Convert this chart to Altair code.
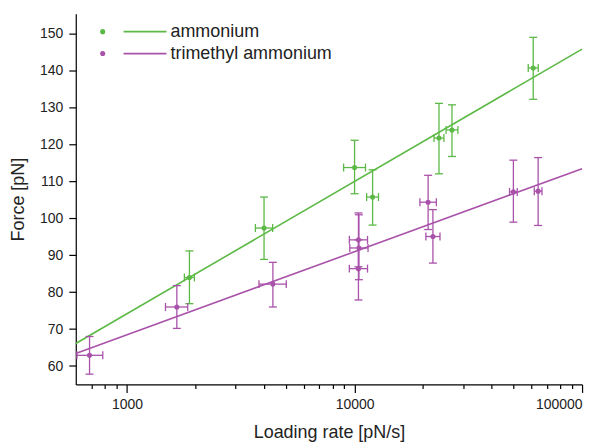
import altair as alt
import pandas as pd

# ---- data ----
amm_rate  = [1880, 4000, 10000, 12000, 23500, 26800, 61000]
amm_force = [84.0, 97.4, 113.8, 105.8, 121.8, 124.0, 140.8]
amm_f_lo  = [76.9, 88.9, 106.7, 98.2, 112.1, 116.8, 132.3]
amm_f_hi  = [91.2, 105.8, 121.2, 113.2, 131.2, 130.8, 149.1]
amm_r_lo  = [1786, 3665, 8950, 11300, 22350, 25240, 57990]
amm_r_hi  = [1977, 4365, 11170, 12740, 24700, 28460, 64170]

tma_rate  = [684, 1655, 4375, 10400, 10450, 10400, 21050, 22100, 49900, 64100]
tma_force = [62.9, 76.0, 82.2, 94.2, 92.0, 86.4, 104.4, 95.1, 107.2, 107.4]
tma_f_lo  = [57.8, 70.2, 76.0, 86.9, 83.4, 77.9, 97.0, 87.9, 99.0, 98.1]
tma_f_hi  = [68.0, 81.8, 88.1, 101.5, 101.0, 94.2, 111.7, 102.4, 115.8, 116.5]
tma_r_lo  = [602, 1475, 3800, 9485, 9530, 9485, 19370, 20580, 47990, 61650]
tma_r_hi  = [782, 1848, 5010, 11400, 11460, 11400, 22880, 23740, 51890, 66650]

# fitted lines (end points)
line_rate      = [595, 100000]
amm_line_force = [66.1, 145.9]
tma_line_force = [63.4, 113.5]

series_names = ["ammonium", "trimethyl ammonium"]
series_colors = ["#5cb946", "#a952aa"]

x_major = [1000, 10000, 100000]
x_minor = [700, 800, 900, 2000, 3000, 4000, 5000, 6000, 7000, 8000, 9000,
           20000, 30000, 40000, 50000, 60000, 70000, 80000, 90000]
y_ticks = [60, 65, 70, 75, 80, 85, 90, 95, 100, 105, 110, 115, 120, 125,
           130, 135, 140, 145, 150, 155]

# ---- tables ----
pts = pd.concat([
    pd.DataFrame({"rate": amm_rate, "force": amm_force, "flo": amm_f_lo, "fhi": amm_f_hi,
                  "rlo": amm_r_lo, "rhi": amm_r_hi, "series": series_names[0]}),
    pd.DataFrame({"rate": tma_rate, "force": tma_force, "flo": tma_f_lo, "fhi": tma_f_hi,
                  "rlo": tma_r_lo, "rhi": tma_r_hi, "series": series_names[1]}),
], ignore_index=True)

lines = pd.concat([
    pd.DataFrame({"rate": line_rate, "force": amm_line_force, "series": series_names[0]}),
    pd.DataFrame({"rate": line_rate, "force": tma_line_force, "series": series_names[1]}),
], ignore_index=True)

FONT = "Liberation Sans"
TXT = "#222222"
color = alt.Color("series:N", scale=alt.Scale(domain=series_names, range=series_colors), legend=None)

xscale = alt.Scale(type="log", domain=[595, 100000], nice=False)
yscale = alt.Scale(domain=[55, 155.5], nice=False, zero=False)

xmaj_test = "datum.value == 1000 || datum.value == 10000 || datum.value == 100000"
xaxis = alt.Axis(
    values=x_major + x_minor,
    labelExpr="(" + xmaj_test + ") ? datum.label : ''",
    tickSize={"condition": {"test": xmaj_test, "value": 8}, "value": 4},
    format="d", grid=False, title="Loading rate [pN/s]",
    labelFont=FONT, titleFont=FONT, labelColor=TXT, titleColor=TXT,
    labelFontSize=14, titleFontSize=18, titleFontWeight="normal",
    labelPadding=5, titlePadding=12,
    domainColor="#000000", tickColor="#000000", domainWidth=1.2, tickWidth=1.2,
)
yaxis = alt.Axis(
    values=y_ticks,
    labelExpr="(datum.value % 10 == 0) ? datum.label : ''",
    tickSize={"condition": {"test": "datum.value % 10 == 0", "value": 7}, "value": 4},
    grid=False, title="Force [pN]",
    labelFont=FONT, titleFont=FONT, labelColor=TXT, titleColor=TXT,
    labelFontSize=14, titleFontSize=18, titleFontWeight="normal",
    labelPadding=6, titlePadding=12,
    domainColor="#000000", tickColor="#000000", domainWidth=1.2, tickWidth=1.2,
)

base_pts = alt.Chart(pts)

line_layer = alt.Chart(lines).mark_line(strokeWidth=1.6).encode(
    x=alt.X("rate:Q", scale=xscale, axis=xaxis),
    y=alt.Y("force:Q", scale=yscale, axis=yaxis),
    color=color,
    detail="series:N",
)

SW = 1.3
vbar = base_pts.mark_rule(strokeWidth=SW).encode(
    x="rate:Q", y="flo:Q", y2="fhi:Q", color=color)
vcap_lo = base_pts.mark_rule(strokeWidth=SW, xOffset=-4, x2Offset=4).encode(
    x="rate:Q", x2="rate:Q", y="flo:Q", color=color)
vcap_hi = base_pts.mark_rule(strokeWidth=SW, xOffset=-4, x2Offset=4).encode(
    x="rate:Q", x2="rate:Q", y="fhi:Q", color=color)
hbar = base_pts.mark_rule(strokeWidth=SW).encode(
    x="rlo:Q", x2="rhi:Q", y="force:Q", color=color)
hcap_lo = base_pts.mark_rule(strokeWidth=SW, yOffset=-4, y2Offset=4).encode(
    x="rlo:Q", y="force:Q", y2="force:Q", color=color)
hcap_hi = base_pts.mark_rule(strokeWidth=SW, yOffset=-4, y2Offset=4).encode(
    x="rhi:Q", y="force:Q", y2="force:Q", color=color)
dots = base_pts.mark_circle(size=26, opacity=1).encode(
    x="rate:Q", y="force:Q", color=color)

# ---- legend (drawn inside the plot, top-left) ----
leg = pd.DataFrame({"series": series_names, "row": [0, 1]})
leg_y = alt.Y("row:Q", scale=alt.Scale(domain=[0, 1], range=[18, 40]), axis=None)
leg_dot = alt.Chart(leg).mark_circle(size=26, opacity=1).encode(
    x=alt.value(27), y=leg_y, color=color)
leg_line = alt.Chart(leg).mark_rule(strokeWidth=1.6).encode(
    x=alt.value(48), x2=alt.value(91), y=leg_y, color=color)
leg_text = alt.Chart(leg).mark_text(align="left", baseline="middle", font=FONT,
                                    fontSize=18, color=TXT).encode(
    x=alt.value(95), y=leg_y, text="series:N")
legend = alt.layer(leg_dot, leg_line, leg_text)

main = alt.layer(line_layer, vbar, vcap_lo, vcap_hi, hbar, hcap_lo, hcap_hi, dots)

chart = alt.layer(main, legend).resolve_scale(y="independent").resolve_axis(y="independent").properties(
    width=508, height=372,
    padding={"left": 68, "top": 5, "right": 20, "bottom": 58},
    autosize="none",
    background="white",
).configure_view(stroke=None)

chart.save("out.html", embed_options={"renderer": "svg", "actions": False})
